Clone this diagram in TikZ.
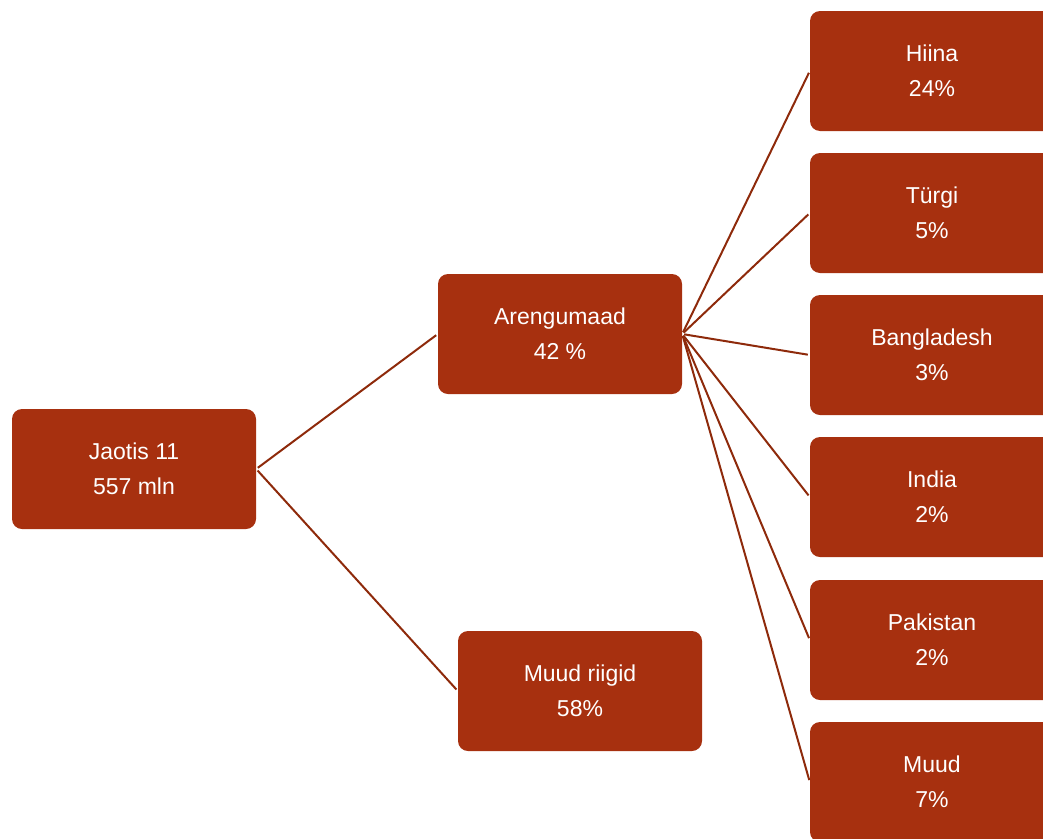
\documentclass[tikz,border=0pt]{standalone}
\usepackage{fontspec}
\setmainfont{Liberation Sans}
\usetikzlibrary{positioning}
\definecolor{boxfill}{HTML}{A7300F}
\definecolor{linkline}{HTML}{8E2A0B}
\tikzset{
  catbox/.style = {rectangle, rounded corners=10pt, fill=boxfill, draw=none,
                   text=white, align=center, minimum width=244pt, minimum height=120pt,
                   inner sep=0pt, font=\fontsize{23}{35}\selectfont},
  link/.style   = {draw=linkline, line width=2pt, shorten <=2pt, shorten >=2pt},
}
\begin{document}
\begin{tikzpicture}[x=1pt, y=-1pt]
  \useasboundingbox (0,0) rectangle (1043,838);
  \clip (0,0) rectangle (1043,838);
  \node[catbox] (jao) at (134,469) {Jaotis 11\\557 mln};
  \node[catbox] (are) at (560,334) {Arengumaad\\42 \%};
  \node[catbox] (muu) at (580,691) {Muud riigid\\58\%};
  \foreach \n/\t/\p/\y in {hii/Hiina/24\%/71, tur/Türgi/5\%/213, ban/Bangladesh/3\%/355,
                           ind/India/2\%/497, pak/Pakistan/2\%/640, mud/Muud/7\%/782}{
    \node[catbox] (\n) at (932,\y) {\t\\\p};
    \draw[link] (are.east) -- (\n.west);
  }
  \foreach \x in {are, muu}{\draw[link] (jao.east) -- (\x.west);}
\end{tikzpicture}
\end{document}
